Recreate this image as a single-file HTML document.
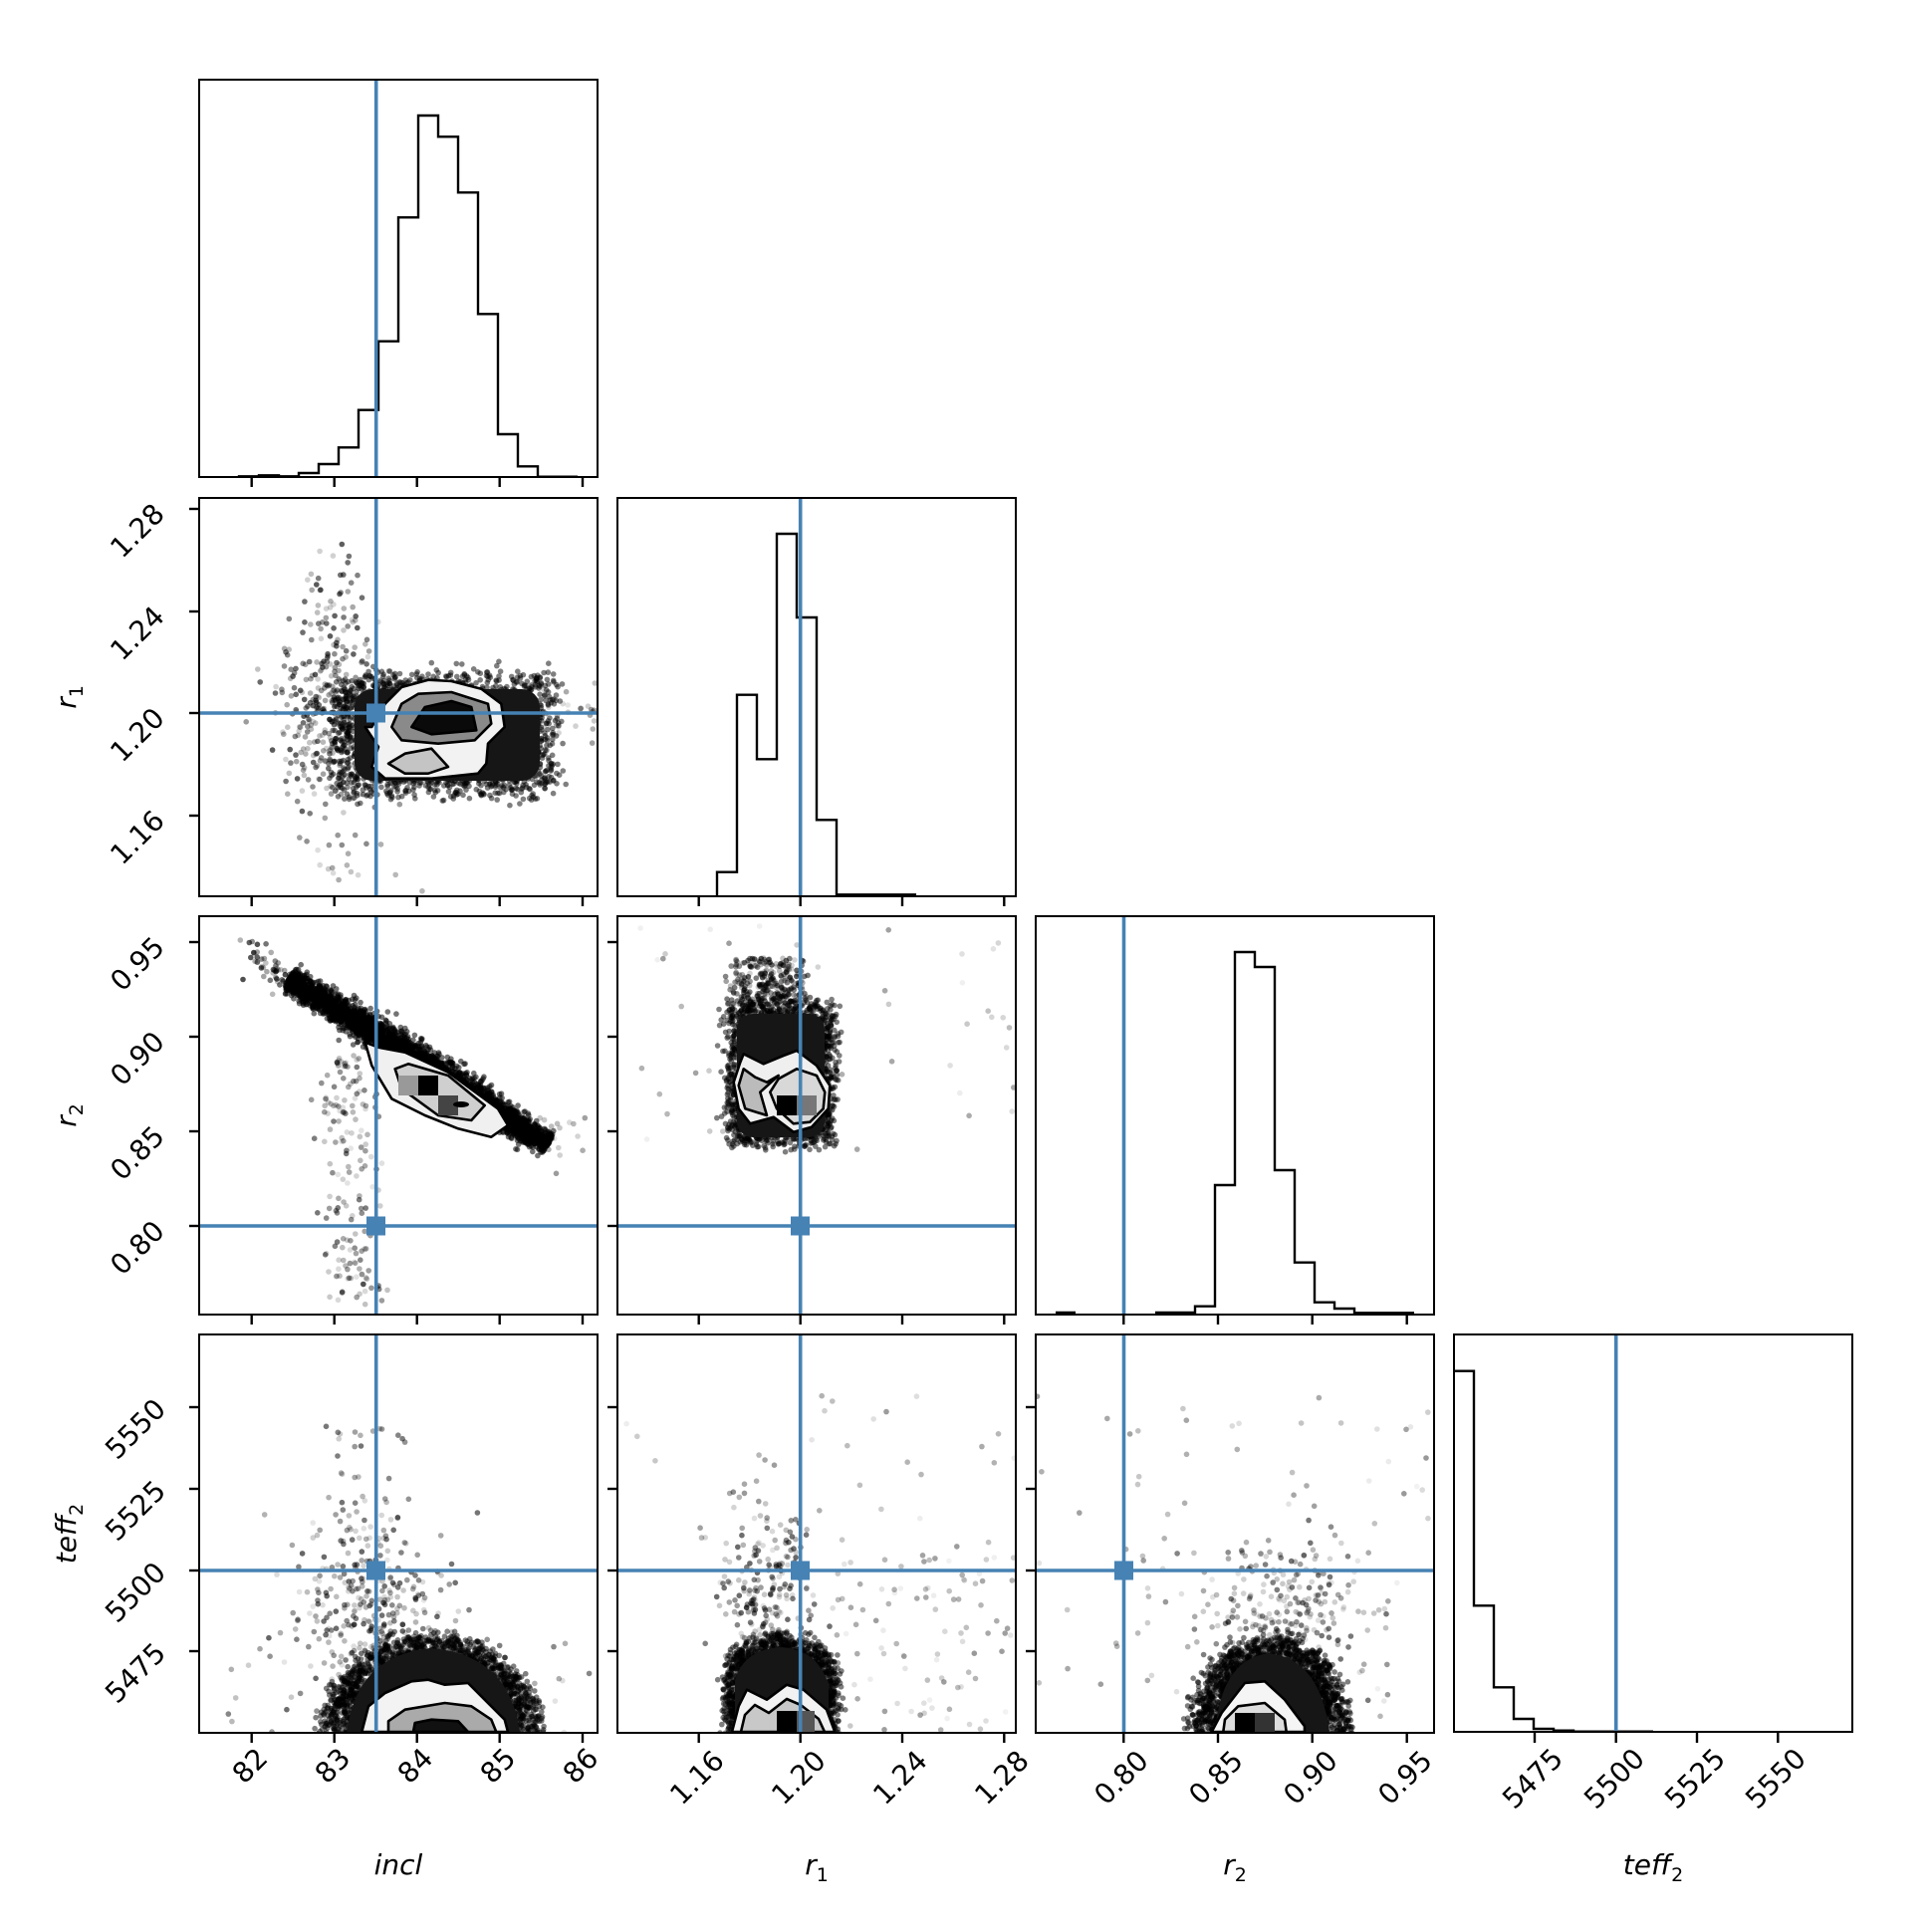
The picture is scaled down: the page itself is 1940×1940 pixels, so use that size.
<!DOCTYPE html>
<html><head><meta charset="utf-8"><style>
html,body{margin:0;padding:0;background:#fff;width:1940px;height:1940px;overflow:hidden}
svg{display:block}
text{font-family:"DejaVu Sans","Liberation Sans",sans-serif;font-size:28px;fill:#000}
.it{font-style:italic}
</style></head><body>
<svg width="1940" height="1940" viewBox="0 0 1940 1940">
<defs>
<clipPath id="c21"><rect x="200" y="500" width="400" height="400"/></clipPath>
<clipPath id="c31"><rect x="200" y="920" width="400" height="400"/></clipPath>
<clipPath id="c32"><rect x="620" y="920" width="400" height="400"/></clipPath>
<clipPath id="c41"><rect x="200" y="1340" width="400" height="400"/></clipPath>
<clipPath id="c42"><rect x="620" y="1340" width="400" height="400"/></clipPath>
<clipPath id="c43"><rect x="1040" y="1340" width="400" height="400"/></clipPath>
</defs>
<rect width="1940" height="1940" fill="#fff"/>

<g id="d21" clip-path="url(#c21)"></g>
<g id="d31" clip-path="url(#c31)"></g>
<g id="d32" clip-path="url(#c32)"></g>
<g id="d41" clip-path="url(#c41)"></g>
<g id="d42" clip-path="url(#c42)"></g>
<g id="d43" clip-path="url(#c43)"></g>

<g fill="#161616">
<rect x="356" y="692" width="186" height="92" rx="18"/>
<rect x="740" y="1018" width="88" height="124" rx="16"/>
<path d="M348,1740 Q358,1662 433,1655 Q512,1662 522,1740 Z"/>
<path d="M738,1740 L738,1688 Q746,1656 785,1654 Q824,1658 832,1694 L832,1740 Z"/>
<path d="M1220,1740 Q1226,1666 1274,1660 Q1326,1666 1335,1740 Z"/>
</g>

<g stroke="#000" stroke-width="2.6" stroke-linejoin="round">
<polygon fill="#f2f2f2" points="373.3,730 386.7,706.7 403.3,690 430,682.7 453.3,684 483.3,691.7 503.3,706.7 506.7,730 490,746.7 488.3,766.7 480,776.7 433.3,781.7 386.7,781.7 373.3,770 380,750 366.7,730"/>
<polygon fill="#8a8a8a" points="393.3,730 403.3,706.7 420,696.7 453.3,695 490,706.7 493.3,726.7 476.7,743.3 440,746.7 403.3,743.3"/>
<polygon fill="#0a0a0a" points="413.3,730 426.7,710 453.3,704 473.3,710 478.3,733.3 433.3,737.3"/>
<polygon fill="#c4c4c4" points="390,766.7 406.7,756.7 433.3,751.7 450,770 430,776.7 406.7,776.7"/>
</g>
<g stroke="#000" stroke-width="2.6" stroke-linejoin="round">
<polygon fill="#f0f0f0" points="366.7,1046.7 380,1051.7 406.7,1056.7 450,1076.7 500,1113.3 510,1130 493.3,1141.7 460,1133.3 426.7,1120 393.3,1103.3 373.3,1070"/>
<polygon fill="#cfcfcf" points="396.7,1073.3 410,1068.3 450,1080 486.7,1110 473.3,1125 440,1120 403.3,1093.3"/>
</g>
<rect x="400" y="1080" width="20" height="20" fill="#999"/>
<rect x="420" y="1080" width="20" height="20" fill="#000"/>
<rect x="440" y="1100" width="20" height="20" fill="#444"/>
<ellipse cx="463" cy="1109" rx="8" ry="3" fill="#000"/>
<g stroke="#000" stroke-width="2.6" stroke-linejoin="round">
<polygon fill="#efefef" points="746.7,1058.3 766.7,1068.3 786.7,1060 800,1055 820,1070 833.3,1090 831.7,1113.3 815,1131.7 796.7,1136.7 776.7,1121.7 753.3,1128.3 741.7,1113.3 736.7,1086.7 743.3,1066.7"/>
<polygon fill="#bbb" points="746.7,1073.3 758.3,1081.7 770,1086.7 781.7,1080 763.3,1096.7 770,1120 748.3,1113.3 741.7,1090"/>
<polygon fill="#d8d8d8" points="781.7,1083.3 800,1073.3 820,1080 828.3,1096.7 826.7,1113.3 813.3,1126.7 796.7,1128.3 780,1113.3 773.3,1096.7"/>
</g>
<rect x="780" y="1100" width="20" height="20" fill="#000"/>
<rect x="800" y="1100" width="20" height="20" fill="#777"/>
<g stroke="#000" stroke-width="2.6" stroke-linejoin="round">
<polygon fill="#f3f3f3" points="363.3,1739 370,1713.3 386.7,1700 413.3,1688.3 430,1686.7 446.7,1691.7 470,1690 486.7,1706.7 506.7,1726.7 510,1739"/>
<polygon fill="#aaa" points="390,1739 390,1728.3 406.7,1716.7 446.7,1710 473.3,1713.3 493.3,1726.7 498.3,1739"/>
<polygon fill="#111" points="415,1739 416.7,1730 433.3,1726.7 460,1728.3 470,1739"/>
</g>
<g stroke="#000" stroke-width="2.6" stroke-linejoin="round">
<polygon fill="#f2f2f2" points="735,1739 741.7,1713.3 750,1696.7 770,1706.7 790,1691.7 806.7,1696.7 830,1716.7 838.3,1739"/>
<polygon fill="#c8c8c8" points="744,1739 748,1722 758,1712 772,1720 790,1706 804,1712 822,1726 828,1739"/>
</g>
<rect x="780" y="1718" width="20" height="21" fill="#000"/>
<rect x="800" y="1718" width="18" height="21" fill="#555"/>
<g stroke="#000" stroke-width="2.6" stroke-linejoin="round">
<polygon fill="#f5f5f5" points="1216.7,1739 1226.7,1720 1250,1690 1270,1688.3 1290,1706.7 1310,1733.3 1310,1739"/>
<polygon fill="#ddd" points="1228.3,1739 1230,1726.7 1243.3,1713.3 1270,1710 1290,1726.7 1291.7,1739"/>
</g>
<rect x="1240" y="1720" width="20" height="19" fill="#000"/>
<rect x="1260" y="1720" width="20" height="19" fill="#333"/>

<g fill="none" stroke="#000" stroke-width="2.4">
<path d="M240,479 V478.3 H260 V477.3 H280 V478.3 H300 V475 H320 V466 H340 V449.3 H360 V411.7 H380 V342.7 H400 V218.3 H420 V116 H440 V137.3 H460 V193.3 H480 V315.3 H500 V436 H520 V468.3 H540 V478.7 H580"/>
<path d="M720,900 V875.7 H740 V697.7 H760 V762.3 H780 V536 H800 V620 H820 V823.3 H840 V898.3 H920"/>
<path d="M1060,1318 H1080 M1160,1318 H1200 V1311.7 H1220 V1190 H1240 V956 H1260 V971 H1280 V1175 H1300 V1267.7 H1320 V1307.7 H1340 V1314 H1360 V1318.3 H1420"/>
<path d="M1460,1376.7 H1480 V1612.3 H1500 V1694.3 H1520 V1726 H1540 V1736 H1560 V1737.7 H1580 V1738.7 H1660"/>
</g>

<g stroke="#4682b4" stroke-width="3.6">
<line x1="377.7" y1="80" x2="377.7" y2="479"/>
<line x1="377.7" y1="500" x2="377.7" y2="900"/>
<line x1="377.7" y1="920" x2="377.7" y2="1320"/>
<line x1="377.7" y1="1340" x2="377.7" y2="1740"/>
<line x1="803.7" y1="500" x2="803.7" y2="900"/>
<line x1="803.7" y1="920" x2="803.7" y2="1320"/>
<line x1="803.7" y1="1340" x2="803.7" y2="1740"/>
<line x1="1128.5" y1="920" x2="1128.5" y2="1320"/>
<line x1="1128.5" y1="1340" x2="1128.5" y2="1740"/>
<line x1="1622.7" y1="1340" x2="1622.7" y2="1740"/>
<line x1="200" y1="716" x2="600" y2="716"/>
<line x1="200" y1="1231" x2="600" y2="1231"/>
<line x1="620" y1="1231" x2="1020" y2="1231"/>
<line x1="200" y1="1577" x2="600" y2="1577"/>
<line x1="620" y1="1577" x2="1020" y2="1577"/>
<line x1="1040" y1="1577" x2="1440" y2="1577"/>
</g>
<g fill="#4682b4">
<rect x="368" y="706.5" width="19" height="19"/>
<rect x="368" y="1221.5" width="19" height="19"/>
<rect x="794" y="1221.5" width="19" height="19"/>
<rect x="368" y="1567.5" width="19" height="19"/>
<rect x="794" y="1567.5" width="19" height="19"/>
<rect x="1119" y="1567.5" width="19" height="19"/>
</g>

<g fill="none" stroke="#000" stroke-width="2">
<rect x="200" y="80" width="400" height="399"/>
<rect x="200" y="500" width="400" height="400"/>
<rect x="620" y="500" width="400" height="400"/>
<rect x="200" y="920" width="400" height="400"/>
<rect x="620" y="920" width="400" height="400"/>
<rect x="1040" y="920" width="400" height="400"/>
<rect x="200" y="1340" width="400" height="400"/>
<rect x="620" y="1340" width="400" height="400"/>
<rect x="1040" y="1340" width="400" height="400"/>
<rect x="1460" y="1340" width="400" height="399"/>
</g>
<g id="ticks" stroke="#000" stroke-width="2.4"></g>

<g text-anchor="middle" dominant-baseline="central">
<text transform="translate(251,1773) rotate(-45)">82</text>
<text transform="translate(334,1773) rotate(-45)">83</text>
<text transform="translate(417,1773) rotate(-45)">84</text>
<text transform="translate(500,1773) rotate(-45)">85</text>
<text transform="translate(583,1773) rotate(-45)">86</text>
<text transform="translate(700,1785) rotate(-45)">1.16</text>
<text transform="translate(802,1785) rotate(-45)">1.20</text>
<text transform="translate(904,1785) rotate(-45)">1.24</text>
<text transform="translate(1006,1785) rotate(-45)">1.28</text>
<text transform="translate(1126,1785) rotate(-45)">0.80</text>
<text transform="translate(1221,1785) rotate(-45)">0.85</text>
<text transform="translate(1316,1785) rotate(-45)">0.90</text>
<text transform="translate(1411,1785) rotate(-45)">0.95</text>
<text transform="translate(1539,1786) rotate(-45)">5475</text>
<text transform="translate(1621,1786) rotate(-45)">5500</text>
<text transform="translate(1702,1786) rotate(-45)">5525</text>
<text transform="translate(1783,1786) rotate(-45)">5550</text>
<text transform="translate(138,533) rotate(-45)">1.28</text>
<text transform="translate(138,636) rotate(-45)">1.24</text>
<text transform="translate(138,738) rotate(-45)">1.20</text>
<text transform="translate(138,841) rotate(-45)">1.16</text>
<text transform="translate(138,968) rotate(-45)">0.95</text>
<text transform="translate(138,1063) rotate(-45)">0.90</text>
<text transform="translate(138,1158) rotate(-45)">0.85</text>
<text transform="translate(138,1253) rotate(-45)">0.80</text>
<text transform="translate(136,1435) rotate(-45)">5550</text>
<text transform="translate(136,1517) rotate(-45)">5525</text>
<text transform="translate(136,1599) rotate(-45)">5500</text>
<text transform="translate(136,1680) rotate(-45)">5475</text>
</g>
<g text-anchor="middle">
<text class="it" x="400" y="1882">incl</text>
<text x="820" y="1882"><tspan class="it">r</tspan><tspan font-size="19" dy="7">1</tspan></text>
<text x="1240" y="1882"><tspan class="it">r</tspan><tspan font-size="19" dy="7">2</tspan></text>
<text x="1660" y="1882"><tspan class="it">teff</tspan><tspan font-size="19" dy="7">2</tspan></text>
<text transform="translate(76,700) rotate(-90)"><tspan class="it">r</tspan><tspan font-size="19" dy="7">1</tspan></text>
<text transform="translate(76,1120) rotate(-90)"><tspan class="it">r</tspan><tspan font-size="19" dy="7">2</tspan></text>
<text transform="translate(76,1540) rotate(-90)"><tspan class="it">teff</tspan><tspan font-size="19" dy="7">2</tspan></text>
</g>
</svg>
<script>
(function(){
var s=12345;function R(){s|=0;s=s+0x6D2B79F5|0;var t=Math.imul(s^s>>>15,1|s);t=t+Math.imul(t^t>>>7,61|t)^t;return((t^t>>>14)>>>0)/4294967296;}
function G(){var u=R()||1e-9,v=R();return Math.sqrt(-2*Math.log(u))*Math.cos(2*Math.PI*v);}
function put(id,arr){var h='';for(var i=0;i<arr.length;i++){var p=arr[i];h+='<circle cx="'+p[0].toFixed(1)+'" cy="'+p[1].toFixed(1)+'" r="2.8" fill="#000" fill-opacity="'+p[2].toFixed(2)+'"/>';}document.getElementById(id).innerHTML=h;}
var a,i,t;
a=[];for(i=0;i<2200;i++)a.push([338+R()*218+G()*6,678+R()*118+G()*6,.5]);
for(i=0;i<300;i++)a.push([328+G()*26,725+G()*42,.15+R()*.5]);
for(i=0;i<60;i++)a.push([335+G()*20,620+G()*40,.15+R()*.5]);
for(i=0;i<20;i++)a.push([345+G()*35,830+R()*70,.1+R()*.4]);
for(i=0;i<25;i++)a.push([545+R()*55,710+G()*18,.1+R()*.3]);
put('d21',a);
a=[];for(i=0;i<4000;i++){t=R();var b=G()*9*(1-Math.abs(t-.5)*.8);a.push([290+260*t-0.55*b,982+168*t+0.84*b,.55]);}
for(i=0;i<50;i++){t=R();a.push([250+40*t+G()*8,950+40*t+G()*8,.2+R()*.5]);}
for(i=0;i<170;i++)a.push([352+G()*16,1060+R()*250,.1+R()*.45]);
for(i=0;i<20;i++)a.push([540+R()*60,1140+G()*15,.1+R()*.3]);
put('d31',a);
a=[];for(i=0;i<2200;i++)a.push([731+R()*106+G()*5,1005+R()*145+G()*5,.5]);
for(i=0;i<260;i++)a.push([738+R()*70+G()*6,962+R()*48,.15+R()*.5]);
for(i=0;i<60;i++)a.push([620+R()*400,1000+G()*90,.05+R()*.35]);
put('d32',a);
a=[];for(i=0;i<3000;i++){var th=Math.PI*R(),r=Math.sqrt(R());a.push([433+110*r*Math.cos(th)+G()*5,1741-98*r*Math.sin(th)+G()*5,.5]);}
for(i=0;i<320;i++)a.push([375+G()*40,1625+G()*45,.1+R()*.5]);
for(i=0;i<60;i++)a.push([365+G()*25,1430+R()*170,.1+R()*.45]);
for(i=0;i<40;i++)a.push([200+R()*400,1640+R()*100,.1+R()*.4]);
put('d41',a);
a=[];for(i=0;i<2200;i++){var x=R(),y=R();a.push([729+x*110+G()*4,1741-(60+38*Math.sqrt(1-Math.pow(2*x-1,2)))*y+G()*4,.5]);}
for(i=0;i<220;i++)a.push([770+G()*25,1600+G()*40,.1+R()*.5]);
for(i=0;i<90;i++)a.push([840+R()*180,1560+R()*180,.05+R()*.35]);
for(i=0;i<35;i++)a.push([620+R()*400,1400+R()*170,.05+R()*.35]);
put('d42',a);
a=[];for(i=0;i<2400;i++){var th=Math.PI*R(),r=Math.sqrt(R());a.push([1275+80*r*Math.cos(th)+G()*5,1741-96*r*Math.sin(th)+G()*5,.5]);}
for(i=0;i<280;i++)a.push([1280+G()*50,1620+G()*40,.1+R()*.45]);
for(i=0;i<70;i++)a.push([1040+R()*400,1400+R()*330,.05+R()*.35]);
put('d43',a);
var h='';
function xt(xs,yb){xs.forEach(function(x){h+='<line x1="'+x+'" y1="'+yb+'" x2="'+x+'" y2="'+(yb+10)+'"/>';});}
function yt(ys,xl){ys.forEach(function(y){h+='<line x1="'+(xl-10)+'" y1="'+y+'" x2="'+xl+'" y2="'+y+'"/>';});}
var c1=[252.7,335.7,418.7,501.7,585],c2=[701.7,803.7,906,1008.3],c3=[1128.3,1223,1317.7,1412.7],c4=[1541,1622.7,1704,1785.3];
var r2=[511,614,716,819],r3=[946,1041,1136,1231],r4=[1413,1495,1577,1658];
xt(c1,479);xt(c1,900);xt(c1,1320);xt(c1,1740);
xt(c2,900);xt(c2,1320);xt(c2,1740);
xt(c3,1320);xt(c3,1740);xt(c4,1740);
yt(r2,200);yt(r3,200);yt(r3,620);yt(r4,200);yt(r4,620);yt(r4,1040);
document.getElementById('ticks').innerHTML=h;
})();
</script>
</body></html>
